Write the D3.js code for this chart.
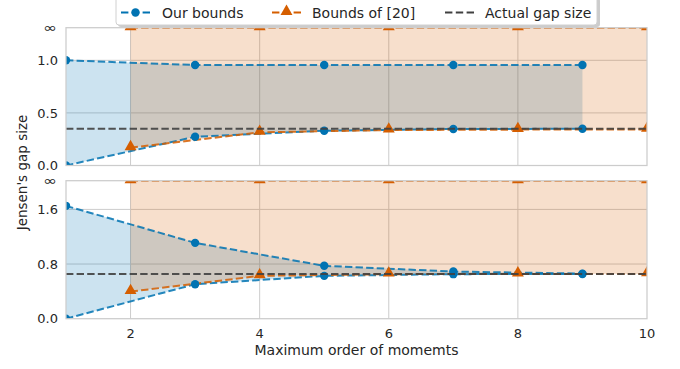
<!DOCTYPE html>
<html>
<head>
<meta charset="utf-8">
<script src="https://cdn.jsdelivr.net/npm/d3@7"></script>
<style>
  html, body { margin: 0; padding: 0; background: #fff; }
  svg { display: block; font-family: "DejaVu Sans", sans-serif; }
</style>
</head>
<body>
<svg id="chart" width="680" height="369"></svg>
<script>
// Moment orders at which each method was evaluated
const ourOrders = [1, 3, 5, 7, 9];
const refOrders = [2, 4, 6, 8, 10];

// Top panel
const topOurLower = [0.0, 0.273, 0.330, 0.347, 0.349];
const topOurUpper = [1.0, 0.955, 0.955, 0.955, 0.955];
const topRefLower = [0.169, 0.315, 0.337, 0.341, 0.343];
const topRefUpper = [Infinity, Infinity, Infinity, Infinity, Infinity];
const topActual = 0.35;
const topTicks = [0, 0.5, 1.0];
const topTickLabels = ["0.0", "0.5", "1.0"];

// Bottom panel
const botOurLower = [0.0, 0.505, 0.627, 0.652, 0.655];
const botOurUpper = [1.652, 1.11, 0.774, 0.69, 0.66];
const botRefLower = [0.397, 0.627, 0.652, 0.655, 0.656];
const botRefUpper = [Infinity, Infinity, Infinity, Infinity, Infinity];
const botActual = 0.656;
const botTicks = [0, 0.8, 1.6];
const botTickLabels = ["0.0", "0.8", "1.6"];

const xTicks = [2, 4, 6, 8, 10];
const legendLabels = ["Our bounds", "Bounds of [20]", "Actual gap size"];

const BLUE = "#0173b2", ORANGE = "#d55e00", GRAY = "#404040";
const TEXT = "#262626", GRID = "#cccccc";
const LW = 2;
const DASH = "7.4,3.2";
const DOT_R = 4.2, TRI_SIZE = 62;

const svg = d3.select("#chart");
const left = 66, right = 647;
const x = d3.scaleLinear().domain([1, 10]).range([left, right]);

function panel(id, top, bottom, infVal, d) {
  const y = d3.scaleLinear().domain([0, infVal]).range([bottom, top]);
  const yv = v => y(Number.isFinite(v) ? v : infVal);
  const g = svg.append("g");

  g.append("clipPath").attr("id", id)
    .append("rect").attr("x", left).attr("y", top)
    .attr("width", right - left).attr("height", bottom - top);

  // grid
  const grid = g.append("g");
  grid.selectAll("line.vx").data(xTicks.filter(t => t < 10)).join("line")
    .attr("x1", t => x(t)).attr("x2", t => x(t))
    .attr("y1", top).attr("y2", bottom)
    .attr("stroke", GRID).attr("stroke-width", 1);
  grid.selectAll("line.hy").data(d.ticks.filter(t => t > 0)).join("line")
    .attr("x1", left).attr("x2", right)
    .attr("y1", t => y(t)).attr("y2", t => y(t))
    .attr("stroke", GRID).attr("stroke-width", 1);

  const plot = g.append("g").attr("clip-path", `url(#${id})`);

  const ours = ourOrders.map((o, i) => ({ o, lo: d.ourLower[i], hi: d.ourUpper[i] }));
  const refs = refOrders.map((o, i) => ({ o, lo: d.refLower[i], hi: d.refUpper[i] }));

  const area = d3.area().x(p => x(p.o)).y0(p => yv(p.lo)).y1(p => yv(p.hi));
  plot.append("path").datum(ours).attr("d", area)
    .attr("fill", BLUE).attr("fill-opacity", 0.2);
  plot.append("path").datum(refs).attr("d", area)
    .attr("fill", ORANGE).attr("fill-opacity", 0.2);

  const lineLo = d3.line().x(p => x(p.o)).y(p => yv(p.lo));
  const lineHi = d3.line().x(p => x(p.o)).y(p => yv(p.hi));

  const drawSeries = (pts, color) => {
    [lineLo, lineHi].forEach(l => {
      plot.append("path").datum(pts).attr("d", l)
        .attr("fill", "none").attr("stroke", color).attr("stroke-opacity", 0.85)
        .attr("stroke-width", LW).attr("stroke-dasharray", DASH);
    });
  };
  drawSeries(ours, BLUE);
  drawSeries(refs, ORANGE);

  // markers
  const blueMarks = ours.flatMap(p => [{ o: p.o, v: p.lo }, { o: p.o, v: p.hi }]);
  plot.selectAll("circle.m").data(blueMarks).join("circle")
    .attr("cx", p => x(p.o)).attr("cy", p => yv(p.v)).attr("r", DOT_R)
    .attr("fill", BLUE);
  const tri = d3.symbol().type(d3.symbolTriangle).size(TRI_SIZE);
  const orangeMarks = refs.flatMap(p => [{ o: p.o, v: p.lo }, { o: p.o, v: p.hi }]);
  plot.selectAll("path.t").data(orangeMarks).join("path")
    .attr("transform", p => `translate(${x(p.o)},${yv(p.v) - 1})`)
    .attr("d", tri).attr("fill", ORANGE);

  // actual gap
  plot.append("line")
    .attr("x1", left).attr("x2", right)
    .attr("y1", y(d.actual)).attr("y2", y(d.actual))
    .attr("stroke", GRAY).attr("stroke-opacity", 0.9).attr("stroke-width", LW)
    .attr("stroke-dasharray", DASH);

  // frame
  g.append("rect").attr("x", left).attr("y", top)
    .attr("width", right - left).attr("height", bottom - top)
    .attr("fill", "none").attr("stroke", GRID).attr("stroke-width", 1.25);

  // y tick labels
  const yl = g.append("g").attr("font-size", 13).attr("fill", TEXT)
    .attr("text-anchor", "end");
  d.ticks.forEach((t, i) => {
    yl.append("text").attr("x", left - 8).attr("y", y(t)).attr("dy", "0.36em")
      .text(d.tickLabels[i]);
  });
  // infinity label, drawn wide and short
  yl.append("text")
    .attr("transform", `translate(${left - 9},${y(infVal)}) scale(1.35,1)`)
    .attr("dy", "0.32em").attr("font-size", 12.5).text("∞");

  return y;
}

panel("clipTop", 27.7, 165.5, 1.31,
  { ourLower: topOurLower, ourUpper: topOurUpper, refLower: topRefLower,
    refUpper: topRefUpper, actual: topActual, ticks: topTicks, tickLabels: topTickLabels });
panel("clipBot", 180.7, 318.7, 2.02,
  { ourLower: botOurLower, ourUpper: botOurUpper, refLower: botRefLower,
    refUpper: botRefUpper, actual: botActual, ticks: botTicks, tickLabels: botTickLabels });

// x axis tick labels
const xa = svg.append("g").attr("font-size", 13).attr("fill", TEXT).attr("text-anchor", "middle");
xTicks.forEach(t => {
  xa.append("text").attr("x", x(t)).attr("y", 338).text(t);
});
svg.append("text").attr("x", (left + right) / 2).attr("y", 355)
  .attr("text-anchor", "middle").attr("font-size", 14).attr("fill", TEXT)
  .text("Maximum order of momemts");
svg.append("text")
  .attr("transform", "translate(27,172.5) rotate(-90)")
  .attr("text-anchor", "middle").attr("font-size", 13.5).attr("fill", TEXT)
  .text("Jensen's gap size");

// legend
const lg = svg.append("g");
lg.append("rect").attr("x", 118).attr("y", -2).attr("width", 482).attr("height", 29)
  .attr("rx", 3).attr("fill", "#999").attr("fill-opacity", 0.5);
lg.append("rect").attr("x", 116).attr("y", -4).attr("width", 481).attr("height", 29)
  .attr("rx", 3).attr("fill", "#fff").attr("stroke", "#d0d0d0").attr("stroke-width", 1);
const entries = [
  { label: legendLabels[0], color: BLUE, marker: "circle", x0: 121, tx: 162 },
  { label: legendLabels[1], color: ORANGE, marker: "triangle", x0: 272, tx: 312 },
  { label: legendLabels[2], color: GRAY, marker: null, x0: 445, tx: 485 }
];
const ly = 12.5;
entries.forEach(e => {
  lg.append("line").attr("x1", e.x0).attr("x2", e.x0 + 29).attr("y1", ly).attr("y2", ly)
    .attr("stroke", e.color).attr("stroke-width", LW).attr("stroke-dasharray", "7.4,3.4");
  if (e.marker === "circle") {
    lg.append("circle").attr("cx", e.x0 + 14.5).attr("cy", ly).attr("r", DOT_R).attr("fill", e.color);
  } else if (e.marker === "triangle") {
    lg.append("path").attr("transform", `translate(${e.x0 + 14.5},${ly - 1})`)
      .attr("d", d3.symbol().type(d3.symbolTriangle).size(TRI_SIZE)).attr("fill", e.color);
  }
  lg.append("text").attr("x", e.tx).attr("y", ly).attr("dy", "0.36em")
    .attr("font-size", 14).attr("fill", TEXT).text(e.label);
});
</script>
</body>
</html>
